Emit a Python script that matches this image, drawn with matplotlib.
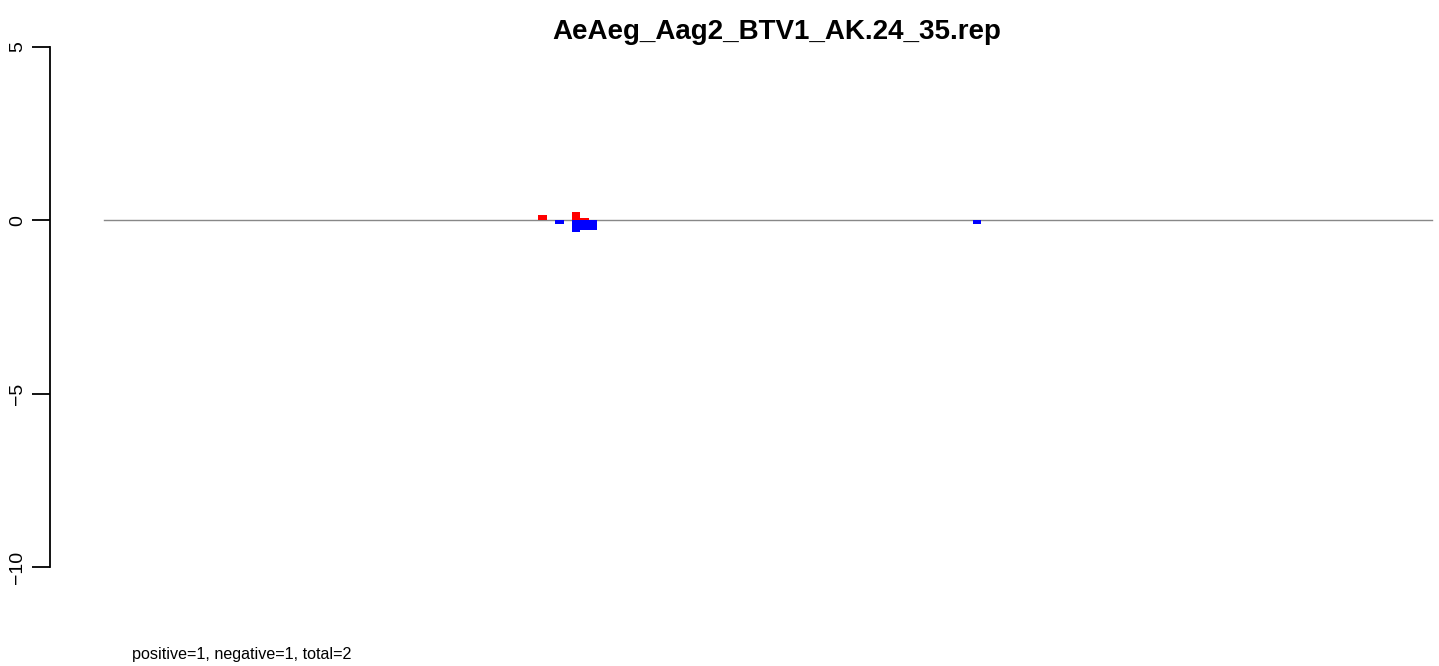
import matplotlib
matplotlib.use("Agg")
import matplotlib.pyplot as plt

plt.rcParams['font.family'] = ['Liberation Sans', 'DejaVu Sans']

# segment length (nt) and bin width
seq_len = 3944
bin_width = 25

# positive strand bins (start, value)
pos_start = [1290, 1390, 1415]
pos_value = [0.16, 0.25, 0.07]

# negative strand bins (start, value)
neg_start = [1340, 1390, 1415, 1440, 2580]
neg_value = [-0.10, -0.35, -0.28, -0.28, -0.10]

title = "AeAeg_Aag2_BTV1_AK.24_35.rep"
footer = "positive=1, negative=1, total=2"
yticks = [-10, -5, 0, 5]

W, H = 1439, 666
fig = plt.figure(figsize=(W / 100, H / 100), dpi=100)

# axes in pixel layout: left spine at x=50, y=5 at px 47, y=-10 at px 567
x0, x1 = 50, 1439
y_top, y_bot = 47, 567
ax = fig.add_axes([x0 / W, 1 - y_bot / H, (x1 - x0) / W, (y_bot - y_top) / H])

nt_per_px = seq_len / (1432 - 104)
ax.set_xlim((x0 - 104) * nt_per_px, (x1 - 104) * nt_per_px)
ax.set_ylim(-10, 5)

ax.plot([0, seq_len], [0, 0], color="#888888", lw=1, zorder=1)
ax.bar(pos_start, pos_value, width=bin_width, align="edge", color="red", lw=0, zorder=2)
ax.bar(neg_start, neg_value, width=bin_width, align="edge", color="blue", lw=0, zorder=2)

for s in ["top", "right", "bottom"]:
    ax.spines[s].set_visible(False)
ax.spines["left"].set_linewidth(1.3)
ax.set_xticks([])
ax.set_yticks(yticks)
ax.set_yticklabels([str(t).replace("-", "\u2212") for t in yticks], rotation=90,
                   va="center", fontsize=14)
ax.tick_params(axis="y", length=13, width=1.3, pad=4)

fig.text(777 / W, 1 - 32 / H, title, ha="center", va="center",
         fontsize=20, fontweight="bold")
fig.text(132 / W, 1 - 655 / H, footer, ha="left", va="center", fontsize=11.6)

fig.savefig("out.png", dpi=100)
